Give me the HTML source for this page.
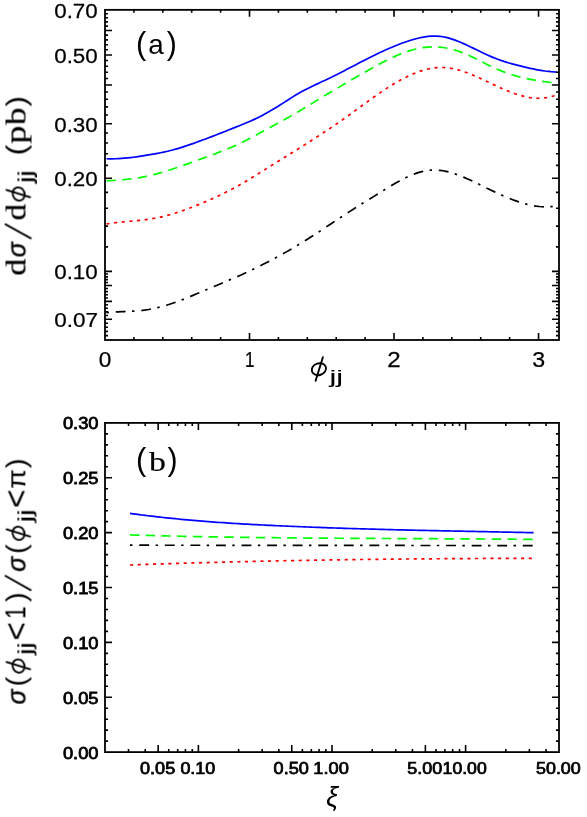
<!DOCTYPE html>
<html><head><meta charset="utf-8"><title>plot</title>
<style>
html,body{margin:0;padding:0;background:#fff;}
svg{display:block;}
text{font-family:"Liberation Sans",sans-serif;fill:#000;}
.se{font-family:"Liberation Serif",serif;}
</style></head><body>
<svg width="587" height="817" viewBox="0 0 587 817">
<rect width="587" height="817" fill="#fff"/>
<g fill="none" stroke-width="1.7" stroke-linejoin="round">
<path d="M106.5 158.75L109.5 158.81L112.5 158.81L115.5 158.74L118.5 158.61L121.5 158.43L124.5 158.20L127.5 157.92L130.5 157.59L133.5 157.23L136.5 156.82L139.6 156.39L142.6 155.92L145.6 155.43L148.6 154.92L151.6 154.39L154.6 153.84L157.6 153.29L160.6 152.71L163.6 152.11L166.6 151.46L169.6 150.77L172.6 150.01L175.6 149.19L178.6 148.31L181.6 147.38L184.6 146.41L187.6 145.40L190.6 144.38L193.6 143.33L196.6 142.26L199.6 141.17L202.6 140.06L205.7 138.94L208.7 137.81L211.7 136.66L214.7 135.49L217.7 134.32L220.7 133.14L223.7 131.95L226.7 130.76L229.7 129.56L232.7 128.36L235.7 127.15L238.7 125.95L241.7 124.74L244.7 123.52L247.7 122.27L250.7 120.98L253.7 119.64L256.7 118.23L259.7 116.75L262.7 115.18L265.7 113.55L268.8 111.85L271.8 110.10L274.8 108.29L277.8 106.44L280.8 104.55L283.8 102.62L286.8 100.68L289.8 98.76L292.8 96.86L295.8 95.02L298.8 93.25L301.8 91.57L304.8 89.97L307.8 88.44L310.8 86.96L313.8 85.52L316.8 84.11L319.8 82.71L322.8 81.32L325.8 79.92L328.8 78.50L331.9 77.05L334.9 75.56L337.9 74.04L340.9 72.50L343.9 70.94L346.9 69.37L349.9 67.79L352.9 66.21L355.9 64.64L358.9 63.07L361.9 61.52L364.9 59.98L367.9 58.45L370.9 56.95L373.9 55.47L376.9 54.01L379.9 52.58L382.9 51.18L385.9 49.81L388.9 48.48L391.9 47.19L394.9 45.93L398.0 44.72L401.0 43.57L404.0 42.47L407.0 41.43L410.0 40.46L413.0 39.56L416.0 38.74L419.0 38.00L422.0 37.36L425.0 36.83L428.0 36.43L431.0 36.17L434.0 36.06L437.0 36.11L440.0 36.35L443.0 36.78L446.0 37.39L449.0 38.17L452.0 39.09L455.0 40.13L458.0 41.29L461.1 42.54L464.1 43.86L467.1 45.24L470.1 46.66L473.1 48.11L476.1 49.57L479.1 51.04L482.1 52.49L485.1 53.92L488.1 55.30L491.1 56.62L494.1 57.88L497.1 59.05L500.1 60.14L503.1 61.15L506.1 62.09L509.1 62.98L512.1 63.83L515.1 64.64L518.1 65.42L521.1 66.18L524.1 66.92L527.2 67.63L530.2 68.31L533.2 68.95L536.2 69.55L539.2 70.10L542.2 70.59L545.2 71.03L548.2 71.40L551.2 71.71L554.2 71.94L557.2 72.10" stroke="#0000ff"/>
<path d="M106.5 180.95L109.5 180.72L112.5 180.49L115.5 180.27L118.5 180.04L121.5 179.79L124.5 179.53L127.5 179.24L130.5 178.91L133.5 178.53L136.5 178.10L139.6 177.62L142.6 177.08L145.6 176.48L148.6 175.83L151.6 175.14L154.6 174.39L157.6 173.60L160.6 172.76L163.6 171.89L166.6 170.98L169.6 170.03L172.6 169.06L175.6 168.06L178.6 167.03L181.6 165.99L184.6 164.92L187.6 163.85L190.6 162.76L193.6 161.66L196.6 160.56L199.6 159.46L202.6 158.36L205.7 157.26L208.7 156.16L211.7 155.05L214.7 153.94L217.7 152.80L220.7 151.65L223.7 150.47L226.7 149.25L229.7 148.00L232.7 146.71L235.7 145.38L238.7 143.99L241.7 142.55L244.7 141.06L247.7 139.52L250.7 137.96L253.7 136.36L256.7 134.74L259.7 133.10L262.7 131.45L265.7 129.80L268.8 128.15L271.8 126.50L274.8 124.87L277.8 123.24L280.8 121.61L283.8 119.97L286.8 118.31L289.8 116.63L292.8 114.93L295.8 113.19L298.8 111.42L301.8 109.64L304.8 107.84L307.8 106.02L310.8 104.19L313.8 102.37L316.8 100.54L319.8 98.71L322.8 96.89L325.8 95.07L328.8 93.27L331.9 91.47L334.9 89.67L337.9 87.89L340.9 86.11L343.9 84.34L346.9 82.58L349.9 80.82L352.9 79.08L355.9 77.34L358.9 75.61L361.9 73.89L364.9 72.18L367.9 70.48L370.9 68.78L373.9 67.11L376.9 65.46L379.9 63.84L382.9 62.26L385.9 60.71L388.9 59.22L391.9 57.78L394.9 56.40L398.0 55.09L401.0 53.86L404.0 52.70L407.0 51.63L410.0 50.65L413.0 49.77L416.0 48.99L419.0 48.33L422.0 47.78L425.0 47.35L428.0 47.06L431.0 46.89L434.0 46.85L437.0 46.95L440.0 47.16L443.0 47.51L446.0 47.97L449.0 48.56L452.0 49.27L455.0 50.10L458.0 51.05L461.1 52.11L464.1 53.29L467.1 54.57L470.1 55.94L473.1 57.37L476.1 58.85L479.1 60.37L482.1 61.90L485.1 63.43L488.1 64.93L491.1 66.40L494.1 67.81L497.1 69.15L500.1 70.41L503.1 71.59L506.1 72.70L509.1 73.74L512.1 74.71L515.1 75.62L518.1 76.47L521.1 77.26L524.1 77.99L527.2 78.67L530.2 79.30L533.2 79.88L536.2 80.42L539.2 80.91L542.2 81.36L545.2 81.78L548.2 82.16L551.2 82.50L554.2 82.82L557.2 83.11" stroke="#00ff00" stroke-dasharray="9.42 6.32"/>
<path d="M106.5 224.01L109.5 223.50L112.5 223.07L115.5 222.68L118.5 222.35L121.5 222.05L124.5 221.77L127.5 221.51L130.5 221.26L133.5 221.00L136.5 220.72L139.6 220.42L142.6 220.08L145.6 219.70L148.6 219.28L151.6 218.80L154.6 218.28L157.6 217.70L160.6 217.06L163.6 216.37L166.6 215.61L169.6 214.80L172.6 213.93L175.6 213.02L178.6 212.05L181.6 211.04L184.6 209.99L187.6 208.90L190.6 207.76L193.6 206.60L196.6 205.40L199.6 204.17L202.6 202.91L205.7 201.62L208.7 200.31L211.7 198.97L214.7 197.60L217.7 196.20L220.7 194.77L223.7 193.30L226.7 191.80L229.7 190.26L232.7 188.68L235.7 187.07L238.7 185.41L241.7 183.72L244.7 181.98L247.7 180.21L250.7 178.40L253.7 176.57L256.7 174.72L259.7 172.86L262.7 170.98L265.7 169.10L268.8 167.21L271.8 165.33L274.8 163.45L277.8 161.58L280.8 159.71L283.8 157.84L286.8 155.97L289.8 154.11L292.8 152.24L295.8 150.37L298.8 148.49L301.8 146.61L304.8 144.72L307.8 142.82L310.8 140.91L313.8 138.98L316.8 137.05L319.8 135.10L322.8 133.13L325.8 131.14L328.8 129.14L331.9 127.11L334.9 125.06L337.9 122.99L340.9 120.89L343.9 118.77L346.9 116.62L349.9 114.45L352.9 112.27L355.9 110.08L358.9 107.88L361.9 105.69L364.9 103.51L367.9 101.33L370.9 99.18L373.9 97.05L376.9 94.95L379.9 92.88L382.9 90.85L385.9 88.87L388.9 86.93L391.9 85.05L394.9 83.24L398.0 81.48L401.0 79.81L404.0 78.21L407.0 76.70L410.0 75.28L413.0 73.95L416.0 72.74L419.0 71.63L422.0 70.64L425.0 69.77L428.0 69.04L431.0 68.43L434.0 67.97L437.0 67.66L440.0 67.51L443.0 67.51L446.0 67.68L449.0 68.01L452.0 68.50L455.0 69.12L458.0 69.88L461.1 70.76L464.1 71.74L467.1 72.81L470.1 73.97L473.1 75.20L476.1 76.49L479.1 77.84L482.1 79.21L485.1 80.62L488.1 82.04L491.1 83.46L494.1 84.88L497.1 86.28L500.1 87.65L503.1 88.99L506.1 90.27L509.1 91.50L512.1 92.66L515.1 93.74L518.1 94.73L521.1 95.61L524.1 96.39L527.2 97.05L530.2 97.57L533.2 97.95L536.2 98.17L539.2 98.24L542.2 98.12L545.2 97.83L548.2 97.34L551.2 96.64L554.2 95.72L557.2 94.58" stroke="#ff0000" stroke-dasharray="3.1 4.58"/>
<path d="M106.5 312.65L109.5 312.37L112.5 312.15L115.5 311.97L118.5 311.81L121.5 311.68L124.5 311.56L127.5 311.43L130.5 311.29L133.5 311.12L136.5 310.91L139.6 310.65L142.6 310.33L145.6 309.94L148.6 309.47L151.6 308.93L154.6 308.32L157.6 307.64L160.6 306.89L163.6 306.08L166.6 305.20L169.6 304.26L172.6 303.27L175.6 302.22L178.6 301.12L181.6 299.98L184.6 298.81L187.6 297.60L190.6 296.36L193.6 295.10L196.6 293.83L199.6 292.55L202.6 291.26L205.7 289.98L208.7 288.70L211.7 287.43L214.7 286.17L217.7 284.91L220.7 283.66L223.7 282.41L226.7 281.15L229.7 279.89L232.7 278.61L235.7 277.31L238.7 276.00L241.7 274.66L244.7 273.30L247.7 271.91L250.7 270.50L253.7 269.07L256.7 267.60L259.7 266.12L262.7 264.61L265.7 263.07L268.8 261.51L271.8 259.93L274.8 258.32L277.8 256.69L280.8 255.03L283.8 253.34L286.8 251.63L289.8 249.90L292.8 248.14L295.8 246.35L298.8 244.54L301.8 242.71L304.8 240.85L307.8 238.97L310.8 237.06L313.8 235.12L316.8 233.17L319.8 231.20L322.8 229.22L325.8 227.22L328.8 225.23L331.9 223.22L334.9 221.22L337.9 219.23L340.9 217.24L343.9 215.26L346.9 213.30L349.9 211.36L352.9 209.44L355.9 207.54L358.9 205.66L361.9 203.80L364.9 201.95L367.9 200.10L370.9 198.26L373.9 196.40L376.9 194.54L379.9 192.67L382.9 190.81L385.9 188.95L388.9 187.11L391.9 185.31L394.9 183.54L398.0 181.82L401.0 180.17L404.0 178.59L407.0 177.11L410.0 175.73L413.0 174.48L416.0 173.36L419.0 172.38L422.0 171.56L425.0 170.90L428.0 170.41L431.0 170.11L434.0 170.00L437.0 170.08L440.0 170.33L443.0 170.76L446.0 171.34L449.0 172.06L452.0 172.92L455.0 173.89L458.0 174.96L461.1 176.12L464.1 177.37L467.1 178.68L470.1 180.04L473.1 181.45L476.1 182.89L479.1 184.34L482.1 185.80L485.1 187.27L488.1 188.73L491.1 190.18L494.1 191.62L497.1 193.03L500.1 194.41L503.1 195.75L506.1 197.05L509.1 198.30L512.1 199.49L515.1 200.61L518.1 201.67L521.1 202.65L524.1 203.54L527.2 204.34L530.2 205.05L533.2 205.65L536.2 206.14L539.2 206.51L542.2 206.75L545.2 206.87L548.2 206.84L551.2 206.67L554.2 206.35L557.2 205.87" stroke="#000" stroke-dasharray="2.45 6.8 9.9 6.4"/>
<path d="M130.0 513.38L133.0 513.80L136.0 514.20L139.0 514.60L142.0 514.98L145.1 515.36L148.1 515.73L151.1 516.10L154.1 516.45L157.1 516.80L160.1 517.14L163.1 517.47L166.1 517.79L169.2 518.11L172.2 518.42L175.2 518.72L178.2 519.02L181.2 519.31L184.2 519.59L187.2 519.86L190.2 520.13L193.3 520.40L196.3 520.65L199.3 520.90L202.3 521.15L205.3 521.39L208.3 521.62L211.3 521.85L214.3 522.07L217.3 522.29L220.4 522.50L223.4 522.71L226.4 522.91L229.4 523.11L232.4 523.30L235.4 523.49L238.4 523.68L241.4 523.86L244.5 524.03L247.5 524.20L250.5 524.37L253.5 524.54L256.5 524.70L259.5 524.85L262.5 525.01L265.5 525.16L268.5 525.31L271.6 525.45L274.6 525.60L277.6 525.74L280.6 525.87L283.6 526.01L286.6 526.14L289.6 526.27L292.6 526.40L295.7 526.52L298.7 526.65L301.7 526.77L304.7 526.89L307.7 527.01L310.7 527.12L313.7 527.24L316.7 527.35L319.8 527.46L322.8 527.57L325.8 527.68L328.8 527.78L331.8 527.89L334.8 527.99L337.8 528.09L340.8 528.19L343.8 528.29L346.9 528.38L349.9 528.48L352.9 528.57L355.9 528.66L358.9 528.75L361.9 528.84L364.9 528.93L367.9 529.01L371.0 529.10L374.0 529.18L377.0 529.26L380.0 529.34L383.0 529.42L386.0 529.50L389.0 529.58L392.0 529.66L395.1 529.73L398.1 529.81L401.1 529.88L404.1 529.95L407.1 530.03L410.1 530.10L413.1 530.17L416.1 530.24L419.1 530.31L422.2 530.37L425.2 530.44L428.2 530.51L431.2 530.57L434.2 530.64L437.2 530.71L440.2 530.77L443.2 530.83L446.3 530.90L449.3 530.96L452.3 531.02L455.3 531.08L458.3 531.15L461.3 531.21L464.3 531.27L467.3 531.33L470.3 531.39L473.4 531.45L476.4 531.51L479.4 531.57L482.4 531.63L485.4 531.69L488.4 531.75L491.4 531.81L494.4 531.87L497.5 531.93L500.5 531.99L503.5 532.06L506.5 532.12L509.5 532.18L512.5 532.24L515.5 532.30L518.5 532.36L521.6 532.42L524.6 532.49L527.6 532.55L530.6 532.61L533.6 532.68" stroke="#0000ff"/>
<path d="M130.0 534.91L133.0 535.00L136.0 535.09L139.0 535.18L142.0 535.27L145.0 535.35L148.1 535.44L151.1 535.52L154.1 535.60L157.1 535.68L160.1 535.75L163.1 535.83L166.1 535.90L169.1 535.98L172.1 536.05L175.1 536.12L178.2 536.19L181.2 536.25L184.2 536.32L187.2 536.38L190.2 536.44L193.2 536.51L196.2 536.57L199.2 536.62L202.2 536.68L205.2 536.74L208.3 536.79L211.3 536.85L214.3 536.90L217.3 536.95L220.3 537.00L223.3 537.05L226.3 537.10L229.3 537.14L232.3 537.19L235.3 537.23L238.3 537.28L241.4 537.32L244.4 537.36L247.4 537.40L250.4 537.44L253.4 537.48L256.4 537.52L259.4 537.55L262.4 537.59L265.4 537.62L268.4 537.66L271.5 537.69L274.5 537.72L277.5 537.75L280.5 537.78L283.5 537.81L286.5 537.84L289.5 537.87L292.5 537.90L295.5 537.93L298.5 537.95L301.6 537.98L304.6 538.00L307.6 538.03L310.6 538.05L313.6 538.07L316.6 538.10L319.6 538.12L322.6 538.14L325.6 538.16L328.6 538.18L331.6 538.20L334.7 538.22L337.7 538.24L340.7 538.26L343.7 538.28L346.7 538.29L349.7 538.31L352.7 538.33L355.7 538.34L358.7 538.36L361.7 538.38L364.8 538.39L367.8 538.41L370.8 538.42L373.8 538.44L376.8 538.45L379.8 538.47L382.8 538.48L385.8 538.50L388.8 538.51L391.8 538.53L394.9 538.54L397.9 538.55L400.9 538.57L403.9 538.58L406.9 538.60L409.9 538.61L412.9 538.62L415.9 538.64L418.9 538.65L421.9 538.67L425.0 538.68L428.0 538.69L431.0 538.71L434.0 538.72L437.0 538.74L440.0 538.75L443.0 538.77L446.0 538.78L449.0 538.80L452.0 538.81L455.0 538.83L458.1 538.85L461.1 538.86L464.1 538.88L467.1 538.90L470.1 538.92L473.1 538.94L476.1 538.95L479.1 538.97L482.1 538.99L485.1 539.01L488.2 539.03L491.2 539.05L494.2 539.08L497.2 539.10L500.2 539.12L503.2 539.14L506.2 539.17L509.2 539.19L512.2 539.22L515.2 539.24L518.3 539.27L521.3 539.30L524.3 539.32L527.3 539.35L530.3 539.38L533.3 539.41" stroke="#00ff00" stroke-dasharray="9.4 6.33"/>
<path d="M130.0 565.02L133.0 564.91L136.0 564.80L139.0 564.69L142.0 564.59L145.0 564.48L148.1 564.38L151.1 564.27L154.1 564.17L157.1 564.07L160.1 563.97L163.1 563.87L166.1 563.78L169.1 563.68L172.1 563.59L175.1 563.49L178.2 563.40L181.2 563.31L184.2 563.22L187.2 563.13L190.2 563.04L193.2 562.95L196.2 562.86L199.2 562.78L202.2 562.69L205.2 562.61L208.3 562.53L211.3 562.44L214.3 562.36L217.3 562.28L220.3 562.20L223.3 562.13L226.3 562.05L229.3 561.97L232.3 561.90L235.3 561.82L238.3 561.75L241.4 561.68L244.4 561.61L247.4 561.54L250.4 561.47L253.4 561.40L256.4 561.33L259.4 561.27L262.4 561.20L265.4 561.14L268.4 561.07L271.5 561.01L274.5 560.95L277.5 560.89L280.5 560.83L283.5 560.77L286.5 560.71L289.5 560.65L292.5 560.59L295.5 560.54L298.5 560.48L301.6 560.43L304.6 560.37L307.6 560.32L310.6 560.27L313.6 560.22L316.6 560.17L319.6 560.12L322.6 560.07L325.6 560.02L328.6 559.97L331.6 559.93L334.7 559.88L337.7 559.84L340.7 559.79L343.7 559.75L346.7 559.71L349.7 559.66L352.7 559.62L355.7 559.58L358.7 559.54L361.7 559.50L364.8 559.47L367.8 559.43L370.8 559.39L373.8 559.36L376.8 559.32L379.8 559.29L382.8 559.25L385.8 559.22L388.8 559.19L391.8 559.15L394.9 559.12L397.9 559.09L400.9 559.06L403.9 559.03L406.9 559.00L409.9 558.97L412.9 558.95L415.9 558.92L418.9 558.89L421.9 558.87L425.0 558.84L428.0 558.82L431.0 558.80L434.0 558.77L437.0 558.75L440.0 558.73L443.0 558.71L446.0 558.69L449.0 558.66L452.0 558.65L455.0 558.63L458.1 558.61L461.1 558.59L464.1 558.57L467.1 558.55L470.1 558.54L473.1 558.52L476.1 558.51L479.1 558.49L482.1 558.48L485.1 558.46L488.2 558.45L491.2 558.44L494.2 558.42L497.2 558.41L500.2 558.40L503.2 558.39L506.2 558.38L509.2 558.37L512.2 558.36L515.2 558.35L518.3 558.34L521.3 558.33L524.3 558.33L527.3 558.32L530.3 558.31L533.3 558.30" stroke="#ff0000" stroke-dasharray="3.1 4.57"/>
<path d="M130.0 545.2L533.3 545.6" stroke="#000" stroke-dasharray="2.45 6.8 9.9 6.42"/>
</g>
<g fill="none" stroke="#000" stroke-width="1.8">
<rect x="105.0" y="9.85" width="454.0" height="330.15"/>
<rect x="105.0" y="422.9" width="454.0" height="329.20000000000005"/>
<path stroke-width="1.6" d="M105.00 30.57L112.00 30.57M559.00 30.57L552.00 30.57M105.00 55.07L112.00 55.07M559.00 55.07L552.00 55.07M105.00 85.05L112.00 85.05M559.00 85.05L552.00 85.05M105.00 123.71L112.00 123.71M559.00 123.71L552.00 123.71M105.00 178.20L112.00 178.20M559.00 178.20L552.00 178.20M105.00 271.35L112.00 271.35M559.00 271.35L552.00 271.35M105.00 285.51L112.00 285.51M559.00 285.51L552.00 285.51M105.00 301.34L112.00 301.34M559.00 301.34L552.00 301.34M105.00 319.28L112.00 319.28M559.00 319.28L552.00 319.28M105.00 13.75L108.00 13.75M559.00 13.75L556.00 13.75M105.00 17.76L108.00 17.76M559.00 17.76L556.00 17.76M105.00 21.89L108.00 21.89M559.00 21.89L556.00 21.89M105.00 26.16L108.00 26.16M559.00 26.16L556.00 26.16M105.00 35.12L108.00 35.12M559.00 35.12L556.00 35.12M105.00 39.84L108.00 39.84M559.00 39.84L556.00 39.84M105.00 44.72L108.00 44.72M559.00 44.72L556.00 44.72M105.00 49.80L108.00 49.80M559.00 49.80L556.00 49.80M105.00 60.55L108.00 60.55M559.00 60.55L556.00 60.55M105.00 66.27L108.00 66.27M559.00 66.27L556.00 66.27M105.00 72.25L108.00 72.25M559.00 72.25L556.00 72.25M105.00 78.50L108.00 78.50M559.00 78.50L556.00 78.50M105.00 91.95L108.00 91.95M559.00 91.95L556.00 91.95M105.00 99.21L108.00 99.21M559.00 99.21L556.00 99.21M105.00 106.89L108.00 106.89M559.00 106.89L556.00 106.89M105.00 115.04L108.00 115.04M559.00 115.04L556.00 115.04M105.00 132.99L108.00 132.99M559.00 132.99L556.00 132.99M105.00 142.95L108.00 142.95M559.00 142.95L556.00 142.95M105.00 153.70L108.00 153.70M559.00 153.70L556.00 153.70M105.00 165.40L108.00 165.40M559.00 165.40L556.00 165.40M105.00 192.36L108.00 192.36M559.00 192.36L556.00 192.36M105.00 208.19L108.00 208.19M559.00 208.19L556.00 208.19M105.00 226.14L108.00 226.14M559.00 226.14L556.00 226.14M105.00 246.85L108.00 246.85M559.00 246.85L556.00 246.85M105.00 274.07L108.00 274.07M559.00 274.07L556.00 274.07M105.00 276.84L108.00 276.84M559.00 276.84L556.00 276.84M105.00 279.67L108.00 279.67M559.00 279.67L556.00 279.67M105.00 282.56L108.00 282.56M559.00 282.56L556.00 282.56M105.00 288.53L108.00 288.53M559.00 288.53L556.00 288.53M105.00 291.62L108.00 291.62M559.00 291.62L556.00 291.62M105.00 294.78L108.00 294.78M559.00 294.78L556.00 294.78M105.00 298.02L108.00 298.02M559.00 298.02L556.00 298.02M105.00 304.74L108.00 304.74M559.00 304.74L556.00 304.74M105.00 308.23L108.00 308.23M559.00 308.23L556.00 308.23M105.00 311.82L108.00 311.82M559.00 311.82L556.00 311.82M105.00 315.50L108.00 315.50M559.00 315.50L556.00 315.50M105.00 323.18L108.00 323.18M559.00 323.18L556.00 323.18M105.00 327.19L108.00 327.19M559.00 327.19L556.00 327.19M105.00 331.33L108.00 331.33M559.00 331.33L556.00 331.33M105.00 335.59L108.00 335.59M559.00 335.59L556.00 335.59M133.90 340.00L133.90 337.00M133.90 9.85L133.90 12.85M162.81 340.00L162.81 337.00M162.81 9.85L162.81 12.85M191.71 340.00L191.71 337.00M191.71 9.85L191.71 12.85M220.61 340.00L220.61 337.00M220.61 9.85L220.61 12.85M249.51 340.00L249.51 333.00M249.51 9.85L249.51 16.85M278.42 340.00L278.42 337.00M278.42 9.85L278.42 12.85M307.32 340.00L307.32 337.00M307.32 9.85L307.32 12.85M336.22 340.00L336.22 337.00M336.22 9.85L336.22 12.85M365.12 340.00L365.12 337.00M365.12 9.85L365.12 12.85M394.03 340.00L394.03 333.00M394.03 9.85L394.03 16.85M422.93 340.00L422.93 337.00M422.93 9.85L422.93 12.85M451.83 340.00L451.83 337.00M451.83 9.85L451.83 12.85M480.73 340.00L480.73 337.00M480.73 9.85L480.73 12.85M509.64 340.00L509.64 337.00M509.64 9.85L509.64 12.85M538.54 340.00L538.54 333.00M538.54 9.85L538.54 16.85M105.00 741.13L108.00 741.13M559.00 741.13L556.00 741.13M105.00 730.15L108.00 730.15M559.00 730.15L556.00 730.15M105.00 719.18L108.00 719.18M559.00 719.18L556.00 719.18M105.00 708.21L108.00 708.21M559.00 708.21L556.00 708.21M105.00 697.23L112.00 697.23M559.00 697.23L552.00 697.23M105.00 686.26L108.00 686.26M559.00 686.26L556.00 686.26M105.00 675.29L108.00 675.29M559.00 675.29L556.00 675.29M105.00 664.31L108.00 664.31M559.00 664.31L556.00 664.31M105.00 653.34L108.00 653.34M559.00 653.34L556.00 653.34M105.00 642.37L112.00 642.37M559.00 642.37L552.00 642.37M105.00 631.39L108.00 631.39M559.00 631.39L556.00 631.39M105.00 620.42L108.00 620.42M559.00 620.42L556.00 620.42M105.00 609.45L108.00 609.45M559.00 609.45L556.00 609.45M105.00 598.47L108.00 598.47M559.00 598.47L556.00 598.47M105.00 587.50L112.00 587.50M559.00 587.50L552.00 587.50M105.00 576.53L108.00 576.53M559.00 576.53L556.00 576.53M105.00 565.55L108.00 565.55M559.00 565.55L556.00 565.55M105.00 554.58L108.00 554.58M559.00 554.58L556.00 554.58M105.00 543.61L108.00 543.61M559.00 543.61L556.00 543.61M105.00 532.63L112.00 532.63M559.00 532.63L552.00 532.63M105.00 521.66L108.00 521.66M559.00 521.66L556.00 521.66M105.00 510.69L108.00 510.69M559.00 510.69L556.00 510.69M105.00 499.71L108.00 499.71M559.00 499.71L556.00 499.71M105.00 488.74L108.00 488.74M559.00 488.74L556.00 488.74M105.00 477.77L112.00 477.77M559.00 477.77L552.00 477.77M105.00 466.79L108.00 466.79M559.00 466.79L556.00 466.79M105.00 455.82L108.00 455.82M559.00 455.82L556.00 455.82M105.00 444.85L108.00 444.85M559.00 444.85L556.00 444.85M105.00 433.87L108.00 433.87M559.00 433.87L556.00 433.87M158.17 752.10L158.17 745.10M158.17 422.90L158.17 429.90M198.39 752.10L198.39 745.10M198.39 422.90L198.39 429.90M291.78 752.10L291.78 745.10M291.78 422.90L291.78 429.90M332.00 752.10L332.00 745.10M332.00 422.90L332.00 429.90M425.39 752.10L425.39 745.10M425.39 422.90L425.39 429.90M465.61 752.10L465.61 745.10M465.61 422.90L465.61 429.90M128.53 752.10L128.53 749.10M128.53 422.90L128.53 425.90M145.22 752.10L145.22 749.10M145.22 422.90L145.22 425.90M168.75 752.10L168.75 749.10M168.75 422.90L168.75 425.90M177.69 752.10L177.69 749.10M177.69 422.90L177.69 425.90M185.44 752.10L185.44 749.10M185.44 422.90L185.44 425.90M192.28 752.10L192.28 749.10M192.28 422.90L192.28 425.90M238.61 752.10L238.61 749.10M238.61 422.90L238.61 425.90M262.14 752.10L262.14 749.10M262.14 422.90L262.14 425.90M278.83 752.10L278.83 749.10M278.83 422.90L278.83 425.90M302.36 752.10L302.36 749.10M302.36 422.90L302.36 425.90M311.30 752.10L311.30 749.10M311.30 422.90L311.30 425.90M319.05 752.10L319.05 749.10M319.05 422.90L319.05 425.90M325.89 752.10L325.89 749.10M325.89 422.90L325.89 425.90M372.22 752.10L372.22 749.10M372.22 422.90L372.22 425.90M395.75 752.10L395.75 749.10M395.75 422.90L395.75 425.90M412.44 752.10L412.44 749.10M412.44 422.90L412.44 425.90M435.97 752.10L435.97 749.10M435.97 422.90L435.97 425.90M444.91 752.10L444.91 749.10M444.91 422.90L444.91 425.90M452.66 752.10L452.66 749.10M452.66 422.90L452.66 425.90M459.50 752.10L459.50 749.10M459.50 422.90L459.50 425.90M505.83 752.10L505.83 749.10M505.83 422.90L505.83 425.90M529.36 752.10L529.36 749.10M529.36 422.90L529.36 425.90M546.05 752.10L546.05 749.10M546.05 422.90L546.05 425.90"/>
</g>
<g style="will-change:opacity;mix-blend-mode:multiply">
<text transform="matrix(1.0704 0 0 1 54.23 17.95)" font-size="20.90" style="font-family:'Liberation Sans';font-weight:normal" stroke="#000" stroke-width="0.25">0.70</text>
<text transform="matrix(1.0704 0 0 1 54.23 63.17)" font-size="20.90" style="font-family:'Liberation Sans';font-weight:normal" stroke="#000" stroke-width="0.25">0.50</text>
<text transform="matrix(1.0704 0 0 1 54.23 131.81)" font-size="20.90" style="font-family:'Liberation Sans';font-weight:normal" stroke="#000" stroke-width="0.25">0.30</text>
<text transform="matrix(1.0704 0 0 1 54.23 186.30)" font-size="20.90" style="font-family:'Liberation Sans';font-weight:normal" stroke="#000" stroke-width="0.25">0.20</text>
<text transform="matrix(1.0704 0 0 1 54.23 279.45)" font-size="20.90" style="font-family:'Liberation Sans';font-weight:normal" stroke="#000" stroke-width="0.25">0.10</text>
<text transform="matrix(1.0768 0 0 1 54.22 327.38)" font-size="20.90" style="font-family:'Liberation Sans';font-weight:normal" stroke="#000" stroke-width="0.25">0.07</text>
<text transform="matrix(1.0593 0 0 1 98.72 366.50)" font-size="21.33" style="font-family:'Liberation Sans';font-weight:normal" stroke="#000" stroke-width="0.25">0</text>
<text transform="matrix(0.8047 0 0 1 244.91 366.50)" font-size="21.33" style="font-family:'Liberation Sans';font-weight:normal" stroke="#000" stroke-width="0.25">1</text>
<text transform="matrix(1.1321 0 0 1 387.31 366.50)" font-size="21.33" style="font-family:'Liberation Sans';font-weight:normal" stroke="#000" stroke-width="0.25">2</text>
<text transform="matrix(1.0878 0 0 1 532.15 366.50)" font-size="21.33" style="font-family:'Liberation Sans';font-weight:normal" stroke="#000" stroke-width="0.25">3</text>
<text transform="matrix(1.1470 0 0 1 62.88 758.50)" font-size="15.96" style="font-family:'Liberation Sans';font-weight:normal" stroke="#000" stroke-width="0.75">0.00</text>
<text transform="matrix(1.1488 0 0 1 62.88 703.63)" font-size="15.96" style="font-family:'Liberation Sans';font-weight:normal" stroke="#000" stroke-width="0.75">0.05</text>
<text transform="matrix(1.1470 0 0 1 62.88 648.77)" font-size="15.96" style="font-family:'Liberation Sans';font-weight:normal" stroke="#000" stroke-width="0.75">0.10</text>
<text transform="matrix(1.1488 0 0 1 62.88 593.90)" font-size="15.96" style="font-family:'Liberation Sans';font-weight:normal" stroke="#000" stroke-width="0.75">0.15</text>
<text transform="matrix(1.1470 0 0 1 62.88 539.03)" font-size="15.96" style="font-family:'Liberation Sans';font-weight:normal" stroke="#000" stroke-width="0.75">0.20</text>
<text transform="matrix(1.1488 0 0 1 62.88 484.17)" font-size="15.96" style="font-family:'Liberation Sans';font-weight:normal" stroke="#000" stroke-width="0.75">0.25</text>
<text transform="matrix(1.1470 0 0 1 62.88 429.30)" font-size="15.96" style="font-family:'Liberation Sans';font-weight:normal" stroke="#000" stroke-width="0.75">0.30</text>
<text transform="matrix(1.1254 0 0 1 139.96 774.40)" font-size="16.10" style="font-family:'Liberation Sans';font-weight:normal" stroke="#000" stroke-width="0.75">0.05</text>
<text transform="matrix(1.1103 0 0 1 180.39 774.40)" font-size="16.10" style="font-family:'Liberation Sans';font-weight:normal" stroke="#000" stroke-width="0.75">0.10</text>
<text transform="matrix(1.1236 0 0 1 273.57 774.40)" font-size="16.10" style="font-family:'Liberation Sans';font-weight:normal" stroke="#000" stroke-width="0.75">0.50</text>
<text transform="matrix(1.1329 0 0 1 313.31 774.40)" font-size="16.10" style="font-family:'Liberation Sans';font-weight:normal" stroke="#000" stroke-width="0.75">1.00</text>
<text transform="matrix(1.1143 0 0 1 407.32 774.40)" font-size="16.10" style="font-family:'Liberation Sans';font-weight:normal" stroke="#000" stroke-width="0.75">5.00</text>
<text transform="matrix(1.0953 0 0 1 442.62 774.40)" font-size="16.10" style="font-family:'Liberation Sans';font-weight:normal" stroke="#000" stroke-width="0.75">10.00</text>
<text transform="matrix(1.1097 0 0 1 536.03 774.40)" font-size="16.10" style="font-family:'Liberation Sans';font-weight:normal" stroke="#000" stroke-width="0.75">50.00</text>
<g transform="translate(0 54)">
<text transform="matrix(0.3093 0 0 0.3156 136.08 -0.23)" font-size="100" style="font-family:'Liberation Sans';font-weight:normal;font-style:normal" >(</text>
<text transform="matrix(0.2784 0 0 0.2720 148.22 -0.07)" font-size="100" style="font-family:'Liberation Sans';font-weight:normal;font-style:normal" >a</text>
<text transform="matrix(0.3017 0 0 0.3156 166.82 -0.23)" font-size="100" style="font-family:'Liberation Sans';font-weight:normal;font-style:normal" >)</text>
</g>
<g transform="translate(0 470.7)">
<text transform="matrix(0.3093 0 0 0.3102 136.08 -0.52)" font-size="100" style="font-family:'Liberation Sans';font-weight:normal;font-style:normal" >(</text>
<text transform="matrix(0.3377 0 0 0.2828 148.90 -0.08)" font-size="100" style="font-family:'Liberation Serif';font-weight:normal;font-style:normal" stroke="#000" stroke-width="0.8">b</text>
<text transform="matrix(0.3017 0 0 0.3102 167.62 -0.52)" font-size="100" style="font-family:'Liberation Sans';font-weight:normal;font-style:normal" >)</text>
</g>
<g transform="translate(0 376)">
<g fill="none" stroke="#000" stroke-width="1.9" stroke-linecap="round"><ellipse cx="318.90" cy="-6.80" rx="7.25" ry="5.85" transform="rotate(-18 318.90 -6.80)"/><line x1="315.64" y1="4.80" x2="322.88" y2="-18.80"/></g>
<text transform="matrix(0.3069 0 0 0.1867 329.55 7.13)" font-size="100" style="font-family:'Liberation Sans';font-weight:normal;font-style:normal" stroke="#000" stroke-width="0.3">j</text>
<text transform="matrix(0.3069 0 0 0.1867 336.15 7.13)" font-size="100" style="font-family:'Liberation Sans';font-weight:normal;font-style:normal" stroke="#000" stroke-width="0.3">j</text>
</g>
<g transform="translate(0 805)">
<text transform="matrix(0.2667 0 0 0.2823 326.28 1.16)" font-size="100" style="font-family:'Liberation Sans';font-weight:normal;font-style:italic" >&#x3be;</text>
</g>
<g transform="translate(25.5 274.5) rotate(-90)">
<text transform="matrix(0.3410 0 0 0.2857 -1.23 -0.08)" font-size="100" style="font-family:'Liberation Serif';font-weight:normal;font-style:normal" stroke="#000" stroke-width="0.8">d</text>
<text transform="matrix(0.2496 0 0 0.2639 17.37 -0.26)" font-size="100" style="font-family:'Liberation Sans';font-weight:normal;font-style:italic" stroke="#000" stroke-width="1.6">&#x3c3;</text>
<line x1="36.2" y1="5.2" x2="50.2" y2="-20.0" stroke="#000" stroke-width="1.9" stroke-linecap="round"/>
<text transform="matrix(0.3299 0 0 0.2857 54.11 -0.08)" font-size="100" style="font-family:'Liberation Serif';font-weight:normal;font-style:normal" stroke="#000" stroke-width="0.8">d</text>
<g fill="none" stroke="#000" stroke-width="1.9" stroke-linecap="round"><ellipse cx="80.50" cy="-6.85" rx="6.75" ry="5.90" transform="rotate(-18 80.50 -6.85)"/><line x1="77.28" y1="4.60" x2="84.52" y2="-19.00"/></g>
<text transform="matrix(0.2958 0 0 0.1974 91.52 6.80)" font-size="100" style="font-family:'Liberation Sans';font-weight:normal;font-style:normal" stroke="#000" stroke-width="0.3">j</text>
<text transform="matrix(0.2958 0 0 0.1974 97.82 6.80)" font-size="100" style="font-family:'Liberation Sans';font-weight:normal;font-style:normal" stroke="#000" stroke-width="0.3">j</text>
<text transform="matrix(0.3244 0 0 0.2855 119.09 -0.11)" font-size="100" style="font-family:'Liberation Sans';font-weight:normal;font-style:normal" >(</text>
<text transform="matrix(0.3619 0 0 0.2953 130.82 -0.49)" font-size="100" style="font-family:'Liberation Serif';font-weight:normal;font-style:normal" stroke="#000" stroke-width="0.8">p</text>
<text transform="matrix(0.3485 0 0 0.2928 149.40 -0.09)" font-size="100" style="font-family:'Liberation Serif';font-weight:normal;font-style:normal" stroke="#000" stroke-width="0.8">b</text>
<text transform="matrix(0.3168 0 0 0.2855 168.01 -0.11)" font-size="100" style="font-family:'Liberation Sans';font-weight:normal;font-style:normal" >)</text>
</g>
<g transform="translate(25.4 703.7) rotate(-90)">
<text transform="matrix(0.2496 0 0 0.2509 -0.63 -0.35)" font-size="100" style="font-family:'Liberation Sans';font-weight:normal;font-style:italic" stroke="#000" stroke-width="1.6">&#x3c3;</text>
<text transform="matrix(0.2904 0 0 0.2791 17.30 -0.18)" font-size="100" style="font-family:'Liberation Sans';font-weight:normal;font-style:normal" >(</text>
<g fill="none" stroke="#000" stroke-width="1.9" stroke-linecap="round"><ellipse cx="37.70" cy="-6.85" rx="6.75" ry="5.90" transform="rotate(-18 37.70 -6.85)"/><line x1="34.45" y1="4.70" x2="41.69" y2="-18.90"/></g>
<text transform="matrix(0.2958 0 0 0.1953 48.72 6.95)" font-size="100" style="font-family:'Liberation Sans';font-weight:normal;font-style:normal" stroke="#000" stroke-width="0.3">j</text>
<text transform="matrix(0.2958 0 0 0.1953 55.02 6.95)" font-size="100" style="font-family:'Liberation Sans';font-weight:normal;font-style:normal" stroke="#000" stroke-width="0.3">j</text>
<text transform="matrix(0.3149 0 0 0.3387 63.15 2.45)" font-size="100" style="font-family:'Liberation Sans';font-weight:normal;font-style:normal" >&lt;</text>
<text transform="matrix(0.2273 0 0 0.2892 84.87 0.10)" font-size="100" style="font-family:'Liberation Sans';font-weight:normal;font-style:normal" >1</text>
<text transform="matrix(0.2904 0 0 0.2791 101.83 -0.18)" font-size="100" style="font-family:'Liberation Sans';font-weight:normal;font-style:normal" >)</text>
<line x1="113.6" y1="5.2" x2="127.8" y2="-19.9" stroke="#000" stroke-width="1.9" stroke-linecap="round"/>
<text transform="matrix(0.2462 0 0 0.2509 131.88 -0.35)" font-size="100" style="font-family:'Liberation Sans';font-weight:normal;font-style:italic" stroke="#000" stroke-width="1.6">&#x3c3;</text>
<text transform="matrix(0.2904 0 0 0.2791 149.80 -0.18)" font-size="100" style="font-family:'Liberation Sans';font-weight:normal;font-style:normal" >(</text>
<g fill="none" stroke="#000" stroke-width="1.9" stroke-linecap="round"><ellipse cx="170.40" cy="-6.85" rx="6.75" ry="5.90" transform="rotate(-18 170.40 -6.85)"/><line x1="167.15" y1="4.70" x2="174.39" y2="-18.90"/></g>
<text transform="matrix(0.3069 0 0 0.1953 181.35 6.95)" font-size="100" style="font-family:'Liberation Sans';font-weight:normal;font-style:normal" stroke="#000" stroke-width="0.3">j</text>
<text transform="matrix(0.3069 0 0 0.1953 187.85 6.95)" font-size="100" style="font-family:'Liberation Sans';font-weight:normal;font-style:normal" stroke="#000" stroke-width="0.3">j</text>
<text transform="matrix(0.3170 0 0 0.3387 195.74 2.45)" font-size="100" style="font-family:'Liberation Sans';font-weight:normal;font-style:normal" >&lt;</text>
<text transform="matrix(0.2848 0 0 0.2546 215.10 -0.35)" font-size="100" style="font-family:'Liberation Sans';font-weight:normal;font-style:normal" >&#x3c0;</text>
<text transform="matrix(0.2980 0 0 0.2791 235.53 -0.18)" font-size="100" style="font-family:'Liberation Sans';font-weight:normal;font-style:normal" >)</text>
</g>
</g>
</svg></body></html>
